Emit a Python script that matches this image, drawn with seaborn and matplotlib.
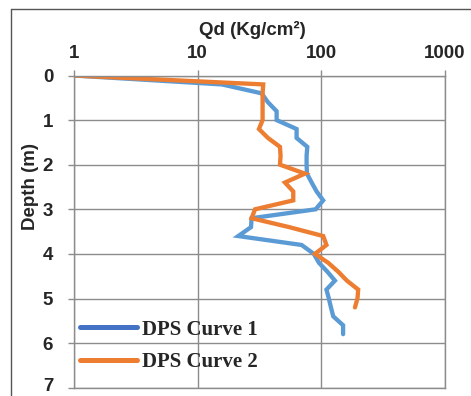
import matplotlib
matplotlib.use("Agg")
import matplotlib.pyplot as plt
import matplotlib.transforms as mtransforms
from matplotlib.lines import Line2D
import numpy as np
import pandas as pd
import seaborn as sns

# Dynamic penetration soundings: depth (m) vs. Qd (kg/cm²)
depth_1 = [0.0, 0.2, 0.4, 0.6, 0.8, 1.0, 1.2, 1.4, 1.6, 1.8, 2.0, 2.2, 2.4, 2.6,
           2.8, 3.0, 3.2, 3.4, 3.6, 3.8, 4.0, 4.2, 4.4, 4.6, 4.8, 5.0, 5.2, 5.4,
           5.6, 5.8]
qd_1 = [1, 15.7, 32.9, 37.0, 43.5, 43.5, 63.1, 63.1, 77, 76, 76, 76.5, 83.5, 91.6,
        103.5, 90, 27.3, 27.0, 21.3, 69.3, 87, 95.7, 112, 128.8, 110, 115, 119.6,
        124.8, 150, 150]

depth_2 = [0.0, 0.2, 0.4, 0.6, 0.8, 1.0, 1.2, 1.4, 1.6, 1.8, 2.0, 2.2, 2.4, 2.6,
           2.8, 3.0, 3.2, 3.4, 3.6, 3.8, 4.0, 4.2, 4.4, 4.6, 4.8, 5.0, 5.2]
qd_2 = [1, 33.9, 33.5, 33.5, 33.5, 33.5, 31.3, 37, 46.3, 46.8, 46.3, 73.7, 50.8,
        59.3, 59.3, 29.1, 27.3, 55, 103.6, 110, 88.8, 113.7, 137, 161, 198.7, 196,
        187]

series_names = ["DPS Curve 1", "DPS Curve 2"]
line_colors = ["#5B9BD5", "#ED7D31"]
legend_colors = ["#4472C4", "#ED7D31"]
x_ticks = [1, 10, 100, 1000]
y_ticks = [0, 1, 2, 3, 4, 5, 6, 7]

df = pd.concat([
    pd.DataFrame({"depth": depth_1, "qd": qd_1, "curve": series_names[0]}),
    pd.DataFrame({"depth": depth_2, "qd": qd_2, "curve": series_names[1]}),
], ignore_index=True)

sns.set_theme(style="white")
plt.rcParams["font.family"] = ["Liberation Sans", "DejaVu Sans"]

fig = plt.figure(figsize=(4.71, 3.96), dpi=100)
ax = fig.add_axes([74 / 471, 1 - 387.7 / 396, (445 - 74) / 471, (387.7 - 75.5) / 396])

sns.lineplot(data=df, x="qd", y="depth", hue="curve", palette=line_colors,
             sort=False, estimator=None, linewidth=3.1, legend=False, ax=ax,
             solid_joinstyle="miter")

ax.set_xscale("log")
ax.set_xlim(1, 1000)
ax.set_ylim(7, 0)
ax.set_xticks(x_ticks)
ax.set_xticklabels([str(t) for t in x_ticks])
ax.set_yticks(y_ticks)
ax.set_yticklabels([str(t) for t in y_ticks])
ax.minorticks_off()

grid_color = "#8c8c8c"
ax.grid(True, which="major", color=grid_color, linewidth=1.0)
for sp in ax.spines.values():
    sp.set_color(grid_color)
    sp.set_linewidth(1.0)

ax.xaxis.tick_top()
ax.xaxis.set_label_position("top")
ax.tick_params(axis="x", which="major", top=True, bottom=False, length=4,
               width=1, color=grid_color, pad=5.5, labelsize=13.5)
ax.tick_params(axis="y", which="major", left=True, length=4.5, width=1,
               color=grid_color, pad=10.5, labelsize=13.5)
for lab in ax.get_xticklabels() + ax.get_yticklabels():
    lab.set_fontweight("bold")

# keep the lowest depth label inside the canvas
last_label = ax.get_yticklabels()[-1]
last_label.set_transform(last_label.get_transform() +
                         mtransforms.ScaledTranslation(0, 3 / 100, fig.dpi_scale_trans))

ax.set_xlabel("Qd (Kg/cm²)", fontsize=13.5, fontweight="bold")
ax.set_ylabel("Depth (m)", fontsize=13.5, fontweight="bold")
ax.xaxis.set_label_coords(0.48, 1.13)
ax.yaxis.set_label_coords(-0.0946, 0.646)

handles = [Line2D([0], [0], color=c, linewidth=3.6) for c in legend_colors]
ax.legend(handles, series_names, loc="upper left", bbox_to_anchor=(0.016, 0.218),
          frameon=False, borderpad=0, borderaxespad=0, handlelength=2.75,
          handletextpad=0.25, labelspacing=0.6,
          prop={"family": ["Liberation Serif", "DejaVu Serif"], "weight": "bold",
                "size": 15})

# outer frame around the chart area
fig.add_artist(Line2D([11 / 471, 11 / 471], [0, 1 - 9 / 396], color="#555555",
                      linewidth=1.0, transform=fig.transFigure))
fig.add_artist(Line2D([11 / 471, 1], [1 - 9 / 396, 1 - 9 / 396], color="#555555",
                      linewidth=1.0, transform=fig.transFigure))

fig.savefig("out.png", dpi=100)
